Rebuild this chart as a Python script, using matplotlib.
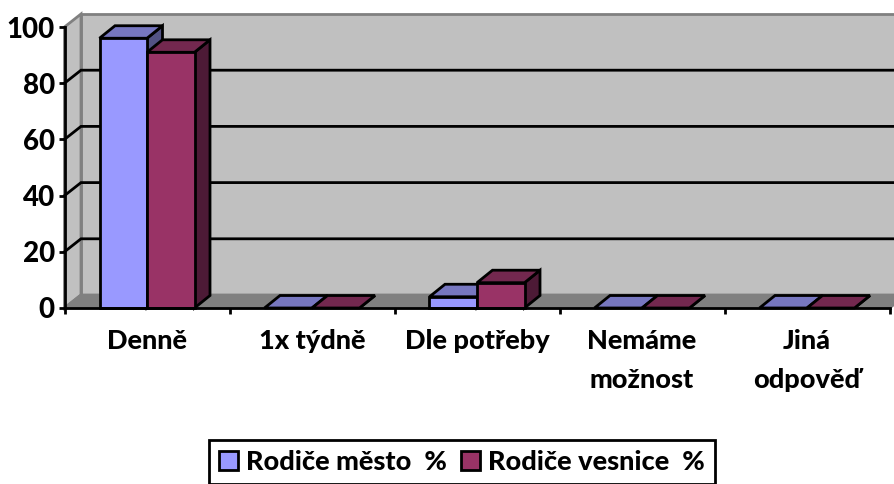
import matplotlib
matplotlib.use("Agg")
import matplotlib.pyplot as plt
from matplotlib.patches import Polygon, Patch

categories = ["Denně", "1x týdně", "Dle potřeby", "Nemáme\nmožnost", "Jiná\nodpověď"]
mesto = [96, 0, 4, 0, 0]
vesnice = [91, 0, 9, 0, 0]
series_names = ["Rodiče město  %", "Rodiče vesnice  %"]
yticks = [0, 20, 40, 60, 80, 100]

W, H = 894, 484
L, R, B, T = 64.5, 889.5, 308, 27
FONT = "Lato"
LW = 2.0

fig = plt.figure(figsize=(W / 100, H / 100), dpi=100)
fig.patch.set_facecolor("white")
ax = fig.add_axes([L / W, 1 - B / H, (R - L) / W, (B - T) / H])
ax.set_xlim(0, len(categories))
ax.set_ylim(0, 100)
ax.patch.set_visible(False)

dx = 16.5 / ((R - L) / len(categories))
dy = 13 / ((B - T) / 100)
bdx = 15.5 / ((R - L) / len(categories))
bdy = 12.5 / ((B - T) / 100)
n = len(categories)


def poly(pts, fc, ec, z, lw=LW):
    ax.add_patch(Polygon(pts, closed=True, facecolor=fc, edgecolor=ec, lw=lw,
                         joinstyle="miter", clip_on=False, zorder=z))


poly([(dx, dy), (n + dx, dy), (n + dx, 100 + dy), (dx, 100 + dy)], "#C0C0C0", "#808080", 1)
poly([(0, 0), (dx, dy), (dx, 100 + dy), (0, 100)], "#C0C0C0", "#808080", 1)
poly([(0, 0), (n, 0), (n + dx, dy), (dx, dy)], "#808080", "#808080", 1.1)

for v in yticks[1:-1]:
    ax.plot([0, dx, n + dx], [v, v + dy, v + dy], color="black", lw=LW, clip_on=False,
            zorder=1.5, solid_joinstyle="miter")

bw = 47.5 / ((R - L) / n)
off = 35 / ((R - L) / n)
styles = [("#9999FF", "#7777C0", "#525284"), ("#993366", "#73284F", "#4D1A36")]
for s, vals in enumerate([mesto, vesnice]):
    front, top, side = styles[s]
    for i, v in enumerate(vals):
        x0 = i + off + s * bw
        x1 = x0 + bw
        poly([(x1, 0), (x1 + bdx, bdy), (x1 + bdx, v + bdy), (x1, v)], side, "black", 3 + s)
        poly([(x0, v), (x1, v), (x1 + bdx, v + bdy), (x0 + bdx, v + bdy)], top, "black", 3 + s)
        if v > 0:
            poly([(x0, 0), (x1, 0), (x1, v), (x0, v)], front, "black", 3 + s)

for sp in ["top", "right"]:
    ax.spines[sp].set_visible(False)
for sp in ["left", "bottom"]:
    ax.spines[sp].set_linewidth(LW)
    ax.spines[sp].set_zorder(2.5)
ax.spines["bottom"].set_zorder(6)

ax.set_yticks(yticks)
ax.set_yticklabels([str(v) for v in yticks], fontfamily=FONT, fontweight="black", fontsize=20)
ax.tick_params(axis="y", length=4.5, width=LW, pad=2.5)

ax.set_xticks(range(n + 1))
ax.set_xticklabels([])
ax.tick_params(axis="x", which="major", length=4.5, width=LW)
ax.set_xticks([i + 0.5 for i in range(n)], minor=True)
ax.set_xticklabels(categories, minor=True, fontfamily=FONT, fontweight="black", fontsize=19.5,
                   linespacing=1.76)
ax.tick_params(axis="x", which="minor", length=0, pad=15)

handles = [Patch(facecolor=styles[i][0], edgecolor="black", lw=LW, label=series_names[i]) for i in range(2)]
leg = fig.legend(handles=handles, ncol=2, loc="lower left", bbox_to_anchor=(209 / W, 0.5 / H),
                 bbox_transform=fig.transFigure, frameon=True, fancybox=False, edgecolor="black",
                 framealpha=1, borderaxespad=0, borderpad=0.36, handlelength=0.72, handleheight=0.72,
                 handletextpad=0.3, columnspacing=0.5,
                 prop={"family": FONT, "weight": "black", "size": 19.5})
leg.get_frame().set_linewidth(LW)

fig.savefig("out.png", dpi=100)
